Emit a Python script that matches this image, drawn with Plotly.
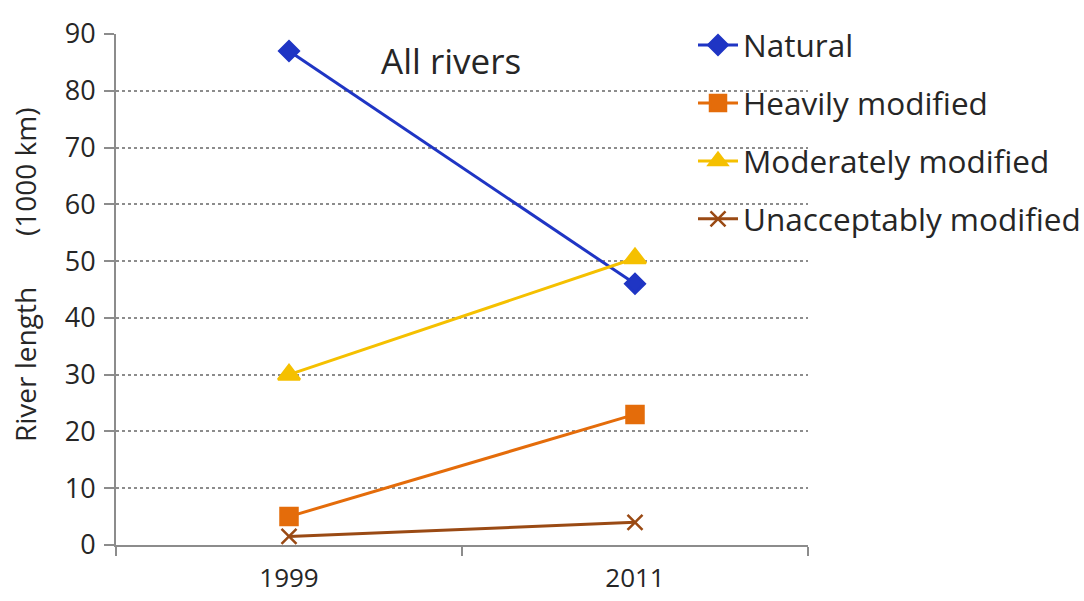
import plotly.graph_objects as go

# River length by ecological status (1000 km)
years = ["1999", "2011"]
natural = [87, 46]
heavily_modified = [5, 23]
moderately_modified = [30, 50.5]
unacceptably_modified = [1.5, 4]

y_ticks = [0, 10, 20, 30, 40, 50, 60, 70, 80, 90]

FONT = "Open Sans"
TEXT = "#262626"
AXIS = "#8c8c8c"

W, H = 1084, 601
L, R, T, B = 116, 276, 34, 56
PW, PH = W - L - R, H - T - B


def px_x(px):
    """Horizontal pixel position -> paper fraction."""
    return (px - L) / PW


def px_y(py):
    """Vertical pixel position (from top) -> paper fraction."""
    return (H - B - py) / PH


series = [
    ("Natural", natural, "#1f35c4", "diamond", 15),
    ("Heavily modified", heavily_modified, "#e46c0a", "square", 17),
    ("Moderately modified", moderately_modified, "#f5c000", "triangle-up", 19),
    ("Unacceptably modified", unacceptably_modified, "#9a4a14", "x-thin", 15),
]

fig = go.Figure()
for i, (name, vals, color, symbol, size) in enumerate(series):
    fig.add_trace(go.Scatter(
        x=years, y=vals, name=name, mode="lines+markers",
        legendgroup=f"g{i}",
        line=dict(color=color, width=3),
        marker=dict(symbol=symbol, size=size, color=color,
                    line=dict(color=color, width=2.5)),
    ))

fig.update_layout(
    width=W, height=H,
    margin=dict(l=L, r=R, t=T, b=B, autoexpand=False),
    paper_bgcolor="white", plot_bgcolor="white",
    font=dict(family=FONT, color=TEXT),
    showlegend=True,
    legend=dict(
        x=px_x(693), xanchor="left", xref="paper",
        y=px_y(18), yanchor="top",
        font=dict(family=FONT, size=31.5, color=TEXT),
        traceorder="grouped", tracegroupgap=14,
        bgcolor="rgba(255,255,255,0)",
        itemwidth=40,
    ),
    xaxis=dict(
        type="category", categoryorder="array", categoryarray=years,
        showgrid=False, showline=True, linecolor=AXIS, linewidth=2,
        ticks="outside", tickson="boundaries", ticklen=9, tickcolor=AXIS,
        tickwidth=2, ticklabelstandoff=9,
        tickfont=dict(family=FONT, size=26, color=TEXT),
        range=[-0.5, 1.5],
    ),
    yaxis=dict(
        range=[0, 90], tickvals=y_ticks,
        showgrid=True, gridcolor=AXIS, griddash="dot", gridwidth=1.5,
        showline=True, linecolor=AXIS, linewidth=2,
        ticks="outside", ticklen=10, tickcolor=AXIS, tickwidth=2,
        ticklabelstandoff=3,
        tickfont=dict(family=FONT, size=27, color=TEXT),
        zeroline=False,
    ),
    shapes=[
        # white backing behind the legend's upper rows
        dict(type="rect", xref="paper", yref="paper",
             x0=px_x(655), x1=1.0, y0=px_y(225), y1=1.0,
             fillcolor="white", line=dict(width=0), layer="between"),
    ],
    annotations=[
        dict(text="All rivers", x=px_x(451), y=85.4, xref="paper", yref="y",
             showarrow=False, xanchor="center", yanchor="middle",
             font=dict(family=FONT, size=35, color=TEXT)),
        dict(text="River length&nbsp;&nbsp;&nbsp;&nbsp;&nbsp;&nbsp;&nbsp;(1000 km)",
             x=px_x(25), xref="paper", y=px_y(275), yref="paper",
             showarrow=False, textangle=-90,
             xanchor="center", yanchor="middle",
             font=dict(family=FONT, size=28, color=TEXT)),
    ],
)

fig.write_html("out.html")
